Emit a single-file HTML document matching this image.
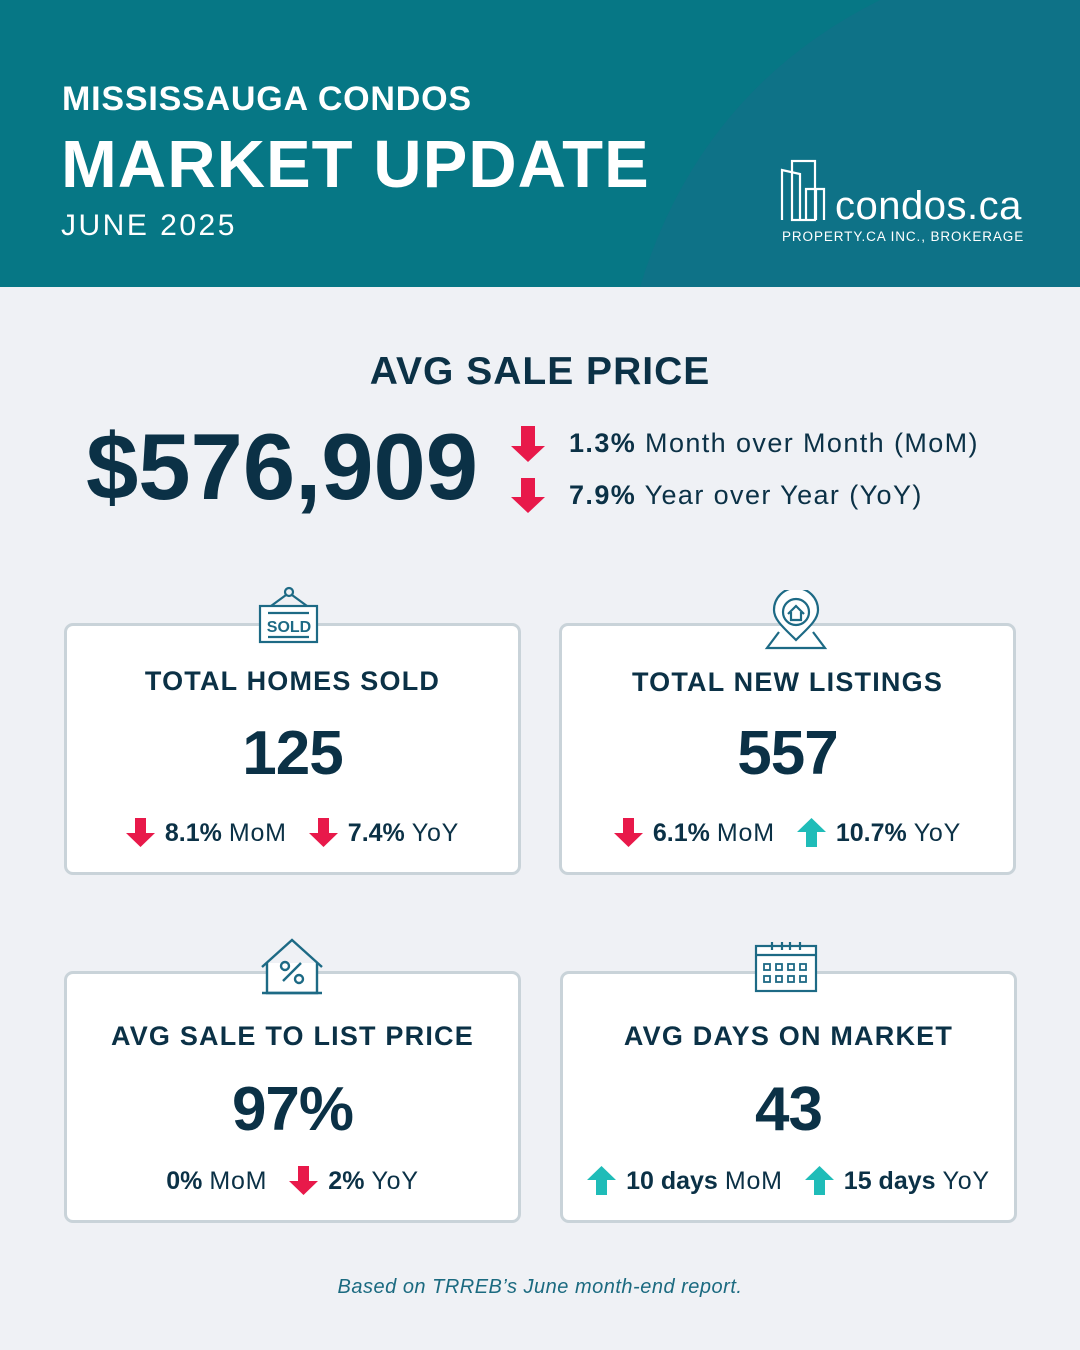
<!DOCTYPE html>
<html><head><meta charset="utf-8"><style>
*{margin:0;padding:0;box-sizing:border-box}
body{width:1080px;height:1350px;background:#eff1f5;font-family:"Liberation Sans",sans-serif;color:#0b3146;position:relative;overflow:hidden}
.a{position:absolute;white-space:nowrap}
.c{text-align:center}
.card{position:absolute;background:#fff;border:3px solid #c9d3d9;border-radius:9px}
.t{font-size:27px;font-weight:bold;letter-spacing:1.2px}
.n{font-size:62px;font-weight:bold;letter-spacing:-1px}
.s{font-size:25px;display:flex;align-items:center;justify-content:center;gap:0}
.s b{margin-left:9px}
.s span{margin-left:7px;margin-right:22px;letter-spacing:0.8px}
svg.ar{display:inline-block}
</style></head><body>
<svg class="a" style="left:0;top:0" width="1080" height="287">
<rect width="1080" height="287" fill="#067785"/>
<path d="M880 0 Q700 90 640 287 L1080 287 L1080 0Z" fill="#0e7287"/>
<g fill="none" stroke="#fff" stroke-width="2.2">
<rect x="792" y="161" width="23" height="59"/>
<path d="M782 220 V170 L800 174 V220 M806 220 V189 H824 V220 M816 220 V189"/>
</g>
</svg>
<div class="a" style="left:62px;top:80px;font-size:34px;color:#fff;font-weight:bold;letter-spacing:0.8px">MISSISSAUGA CONDOS</div>
<div class="a" style="left:61px;top:126px;font-size:67px;color:#fff;font-weight:bold;letter-spacing:1px">MARKET UPDATE</div>
<div class="a" style="left:61px;top:209px;font-size:30px;color:#fff;letter-spacing:2.5px">JUNE 2025</div>
<div class="a" style="left:835px;top:184px;font-size:40px;color:#fff;letter-spacing:0.5px">condos.ca</div>
<div class="a" style="left:782px;top:229px;font-size:13.5px;color:#fff;letter-spacing:0.9px">PROPERTY.CA INC., BROKERAGE</div>

<div class="a c" style="left:0;width:1080px;top:350px;font-size:39px;font-weight:bold;letter-spacing:1px">AVG SALE PRICE</div>
<div class="a" style="left:86px;top:413px;font-size:94px;font-weight:bold;letter-spacing:0px">$576,909</div>
<svg class="a" style="left:511px;top:426px" width="36" height="90"><g fill="#e8194a"><path d="M10 0H24V20H34L17 36L0 20H10Z"/><path d="M10 52H24V71H34L17 87L0 71H10Z"/></g></svg>
<div class="a" style="left:569px;top:428px;font-size:27px;letter-spacing:1.4px"><b>1.3%</b> Month over Month (MoM)</div>
<div class="a" style="left:569px;top:480px;font-size:27px;letter-spacing:1.4px"><b>7.9%</b> Year over Year (YoY)</div>

<div class="card" style="left:64px;top:623px;width:457px;height:252px"></div>
<div class="card" style="left:559px;top:623px;width:457px;height:252px"></div>
<div class="card" style="left:64px;top:971px;width:457px;height:252px"></div>
<div class="card" style="left:560px;top:971px;width:457px;height:252px"></div>

<svg class="a" style="left:258px;top:586px" width="64" height="60"><g fill="none" stroke="#1d6a85" stroke-width="2.2"><circle cx="31" cy="6" r="4"/><path d="M28 9L13 20M34 9L49 20"/><rect x="2" y="20" width="57" height="36" fill="#fff"/><path d="M10 27H51M10 51H51"/></g><text x="31" y="46" text-anchor="middle" font-family="Liberation Sans" font-weight="bold" font-size="16" fill="#1d6a85">SOLD</text></svg>
<svg class="a" style="left:764px;top:590px" width="64" height="62"><g fill="none" stroke="#1d6a85" stroke-width="2.2"><path d="M32 50C20 38 10 30 10 20A22 22 0 0 1 54 20C54 30 44 38 32 50Z" fill="#fff"/><circle cx="32" cy="22" r="13"/><path d="M24 24L32 16L40 24M27 22V30H37V22"/><path d="M15 42L3 58H61L49 42"/></g></svg>
<svg class="a" style="left:259px;top:937px" width="66" height="60"><g fill="none" stroke="#1d6a85" stroke-width="2.4"><path d="M3 30L33 3L63 30"/><path d="M8 26V56H58V26" fill="#fff"/><path d="M24 44L42 26"/><circle cx="26" cy="29" r="4"/><circle cx="40" cy="42" r="4"/><path d="M3 56H63"/></g></svg>
<svg class="a" style="left:754px;top:940px" width="64" height="54"><g fill="none" stroke="#1d6a85" stroke-width="2.2"><rect x="2" y="6" width="60" height="45" fill="#fff"/><path d="M2 15H62"/><path d="M18 2V10M28 2V10M36 2V10M46 2V10"/><g stroke-width="1.8"><rect x="10" y="24" width="6" height="6"/><rect x="22" y="24" width="6" height="6"/><rect x="34" y="24" width="6" height="6"/><rect x="46" y="24" width="6" height="6"/><rect x="10" y="36" width="6" height="6"/><rect x="22" y="36" width="6" height="6"/><rect x="34" y="36" width="6" height="6"/><rect x="46" y="36" width="6" height="6"/></g></g></svg>

<div class="a c t" style="left:64px;width:457px;top:666px">TOTAL HOMES SOLD</div>
<div class="a c n" style="left:64px;width:457px;top:718px">125</div>
<div class="a s" style="left:64px;width:457px;top:818px;padding-left:22px"><svg class="ar" width="30" height="30"><path d="M9 0H20V15H29L14.5 29L0 15H9Z" fill="#e8194a"/></svg><b>8.1%</b><span>MoM</span><svg class="ar" width="30" height="30"><path d="M9 0H20V15H29L14.5 29L0 15H9Z" fill="#e8194a"/></svg><b>7.4%</b><span>YoY</span></div>
<div class="a c t" style="left:559px;width:457px;top:667px">TOTAL NEW LISTINGS</div>
<div class="a c n" style="left:559px;width:457px;top:718px">557</div>
<div class="a s" style="left:559px;width:457px;top:818px;padding-left:22px"><svg class="ar" width="30" height="30"><path d="M9 0H20V15H29L14.5 29L0 15H9Z" fill="#e8194a"/></svg><b>6.1%</b><span>MoM</span><svg class="ar" width="30" height="30"><path d="M9 29H20V14H29L14.5 0L0 14H9Z" fill="#1fbcb8"/></svg><b>10.7%</b><span>YoY</span></div>
<div class="a c t" style="left:64px;width:457px;top:1021px">AVG SALE TO LIST PRICE</div>
<div class="a c n" style="left:64px;width:457px;top:1074px">97%</div>
<div class="a s" style="left:64px;width:457px;top:1166px;padding-left:22px"><b style="margin-left:0">0%</b><span>MoM</span><svg class="ar" width="30" height="30"><path d="M9 0H20V15H29L14.5 29L0 15H9Z" fill="#e8194a"/></svg><b>2%</b><span>YoY</span></div>
<div class="a c t" style="left:560px;width:457px;top:1021px">AVG DAYS ON MARKET</div>
<div class="a c n" style="left:560px;width:457px;top:1074px">43</div>
<div class="a s" style="left:560px;width:457px;top:1166px;padding-left:22px"><svg class="ar" width="30" height="30"><path d="M9 29H20V14H29L14.5 0L0 14H9Z" fill="#1fbcb8"/></svg><b>10 days</b><span>MoM</span><svg class="ar" width="30" height="30"><path d="M9 29H20V14H29L14.5 0L0 14H9Z" fill="#1fbcb8"/></svg><b>15 days</b><span>YoY</span></div>

<div class="a c" style="left:0;width:1080px;top:1276px;font-size:20px;font-style:italic;color:#1b6a80;letter-spacing:0.5px">Based on TRREB’s June month-end report.</div>
</body></html>
